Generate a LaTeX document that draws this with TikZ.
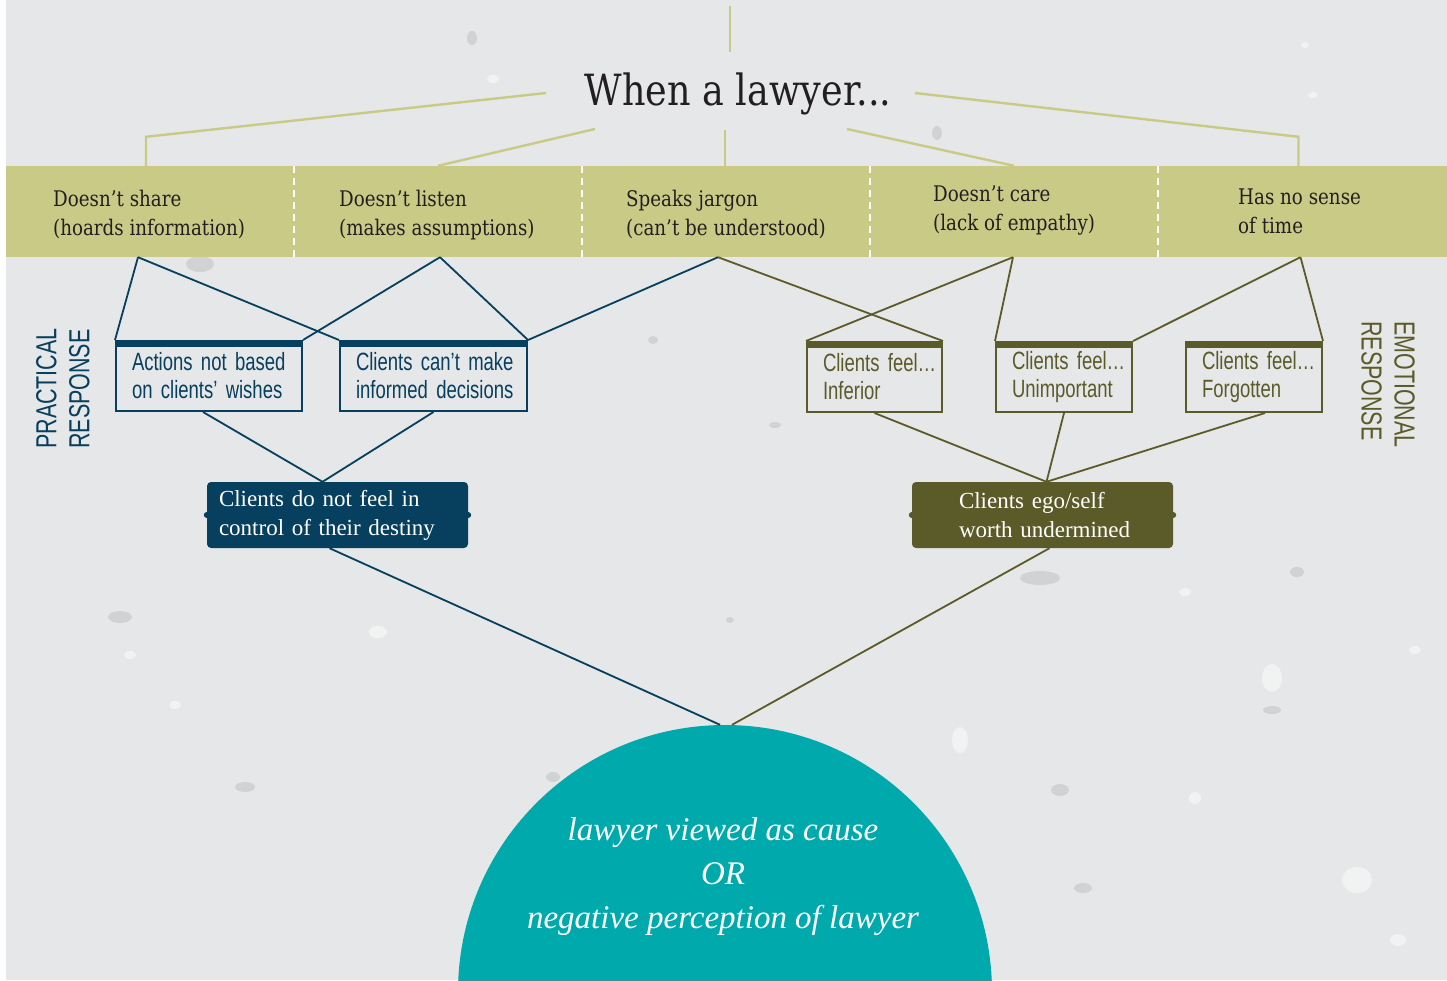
\documentclass[tikz,border=0pt]{standalone}
\usepackage{fontspec}
\setmainfont{Liberation Serif}
\newfontfamily\lawTypeface[FakeStretch=0.85]{DejaVu Serif}
\newfontfamily\lawNarrowface[FakeStretch=0.74]{Liberation Sans}
\usepackage{xcolor}
\usetikzlibrary{positioning,calc}
\definecolor{paperGray}{HTML}{E6E7E8}
\definecolor{bandGreen}{HTML}{C9CA86}
\definecolor{lawNavy}{HTML}{073F5E}
\definecolor{lawOlive}{HTML}{5B5B2A}
\definecolor{lawTeal}{HTML}{00A9AC}
\definecolor{inkBlack}{HTML}{231F20}
\colorlet{speckLight}{white!45!paperGray}
\colorlet{speckDark}{black!9!paperGray}
\newcommand\lawNoBreak{\hyphenpenalty=10000\exhyphenpenalty=10000}
\newcommand\lawBandFont{\lawTypeface\fontsize{21.5}{29}\selectfont}
\newcommand\lawTitleFont{\lawTypeface\fontsize{43}{50}\selectfont}
\newcommand\lawBoxFont{\lawNarrowface\fontsize{25}{28}\selectfont\lawNoBreak\spaceskip=5.2pt}
\newcommand\lawSideFont{\lawNarrowface\fontsize{29}{33}\selectfont}
\newcommand\lawSummaryFont{\fontsize{23}{29}\selectfont\lawNoBreak}
\newcommand\lawVerdictFont{\itshape\fontsize{33}{44}\selectfont}
\tikzset{
  % band of lawyer behaviours
  cell/.style={
    fill=bandGreen,
    minimum width=288pt,
    minimum height=91pt,
    inner sep=0pt
  },
  celltext/.style={
    font=\lawBandFont,
    text=inkBlack,
    align=left,
    anchor=west,
    inner sep=0pt
  },
  titletext/.style={
    font=\lawTitleFont,
    text=inkBlack,
    inner sep=0pt
  },
  topline/.style={
    draw=bandGreen,
    line width=2.4pt
  },
  divider/.style={
    draw=white,
    line width=1.8pt,
    dash pattern=on 7pt off 5pt
  },
  % client responses
  respbox/.style={
    draw=#1,
    text=#1,
    line width=2pt,
    minimum height=70pt,
    inner xsep=16pt,
    inner ysep=0pt,
    align=left,
    font=\lawBoxFont
  },
  link/.style={
    draw=#1,
    line width=1.8pt
  },
  summary/.style={
    fill=#1,
    text=white,
    rounded corners=4pt,
    minimum height=66pt,
    inner ysep=0pt,
    align=left,
    font=\lawSummaryFont
  },
  sidelabel/.style={
    text=#1,
    align=left,
    inner sep=0pt,
    font=\lawSideFont
  },
  verdict/.style={
    circle,
    fill=lawTeal,
    minimum size=534pt,
    inner sep=0pt
  },
  verdicttext/.style={
    text=white,
    align=center,
    inner sep=0pt,
    font=\lawVerdictFont
  }
}

\begin{document}
\begin{tikzpicture}[x=1pt,y=-1pt]

\clip (0,0) rectangle (1447,980);
\fill[white] (0,0) rectangle (1447,980);
\fill[paperGray] (6,0) rectangle (1447,980);

% paper texture
\foreach \x/\y/\rx/\ry/\c in {
  472/38/5/7/speckDark, 493/79/6/4/speckLight, 937/133/5/7/speckDark,
  1305/45/4/3/speckLight, 1313/95/5/3/speckLight, 200/264/14/8/speckDark,
  653/340/5/4/speckDark, 775/425/6/3/speckDark, 1297/572/7/5/speckDark,
  1040/578/20/7/speckDark, 1185/592/6/4/speckLight, 1272/678/10/14/speckLight,
  1272/710/9/4/speckDark, 960/740/8/13/speckLight, 1195/798/6/6/speckLight,
  1357/880/15/13/speckLight, 1083/888/9/5/speckDark, 1060/790/9/6/speckDark,
  120/617/12/6/speckDark, 130/655/6/4/speckLight, 378/632/9/6/speckLight,
  175/705/6/4/speckLight, 245/787/10/5/speckDark, 1398/940/8/6/speckLight,
  553/777/7/5/speckDark, 730/620/4/3/speckDark, 1415/650/6/4/speckLight}
  \fill[\c] (\x,\y) ellipse ({\rx pt} and {\ry pt});

% behaviour band
\node[cell] (share) at (150,211.5) {};
\node[cell] (listen) at (438,211.5) {};
\node[cell] (jargon) at (726,211.5) {};
\node[cell] (care) at (1014,211.5) {};
\node[cell, minimum width=289pt] (time) at (1302.5,211.5) {};
\foreach \c in {share,listen,jargon,care}
  \draw[divider] (\c.north east) -- (\c.south east);

\node[celltext] (shareTxt) at (53,215) {Doesn’t share\\(hoards information)};
\node[celltext] (listenTxt) at (339,215) {Doesn’t listen\\(makes assumptions)};
\node[celltext] (jargonTxt) at (626,215) {Speaks jargon\\(can’t be understood)};
\node[celltext] (careTxt) at (933,211) {Doesn’t care\\(lack of empathy)};
\node[celltext] (timeTxt) at (1238,211) {Has no sense\\of time};

% title and its fan of lines
\node[titletext] (title) at (738,94) {When a lawyer...};
\coordinate (stem) at (730,6);
\coordinate (stemEnd) at (730,52);
\coordinate (fanL) at (546,93);
\coordinate (fanLL) at (595,129);
\coordinate (fanC) at (725,130);
\coordinate (fanRR) at (847,129);
\coordinate (fanR) at (915,93);

\draw[topline] (stem) -- (stemEnd);
\draw[topline] (fanL) -- ([xshift=-4pt,yshift=29pt]share.north) -- ([xshift=-4pt]share.north);
\draw[topline] (fanLL) -- (listen.north);
\draw[topline] (fanC) -- ([xshift=-1pt]jargon.north);
\draw[topline] (fanRR) -- (care.north);
\draw[topline] (fanR) -- ([xshift=-4pt,yshift=29pt]time.north) -- ([xshift=-4pt]time.north);

% response boxes
\node[respbox=lawNavy, text width=154pt] (act) at (209,376) {\mbox{Actions not based}\\\mbox{on clients’ wishes}};
\node[respbox=lawNavy, text width=155pt] (dec) at (433.5,376) {\mbox{Clients can’t make}\\\mbox{informed decisions}};
\node[respbox=lawOlive, text width=103pt] (inf) at (874.5,377) {\mbox{Clients feel\ldots}\\Inferior};
\node[respbox=lawOlive, text width=104pt] (unimp) at (1064,377) {\mbox{Clients feel\ldots}\\Unimportant};
\node[respbox=lawOlive, text width=104pt] (forg) at (1254,377) {\mbox{Clients feel\ldots}\\Forgotten};
\foreach \b/\c in {act/lawNavy,dec/lawNavy,inf/lawOlive,unimp/lawOlive,forg/lawOlive}
  \fill[\c] (\b.north west) rectangle ([yshift=-7pt]\b.north east);

\draw[link=lawNavy] ([xshift=-12pt]share.south) -- (act.north west);
\draw[link=lawNavy] ([xshift=-12pt]share.south) -- (dec.north west);
\draw[link=lawNavy] ([xshift=2pt]listen.south) -- (act.north east);
\draw[link=lawNavy] ([xshift=2pt]listen.south) -- (dec.north east);
\draw[link=lawNavy] ([xshift=-8pt]jargon.south) -- (dec.north east);
\draw[link=lawOlive] ([xshift=-8pt]jargon.south) -- (inf.north east);
\draw[link=lawOlive] ([xshift=-1pt]care.south) -- (inf.north west);
\draw[link=lawOlive] ([xshift=-1pt]care.south) -- (unimp.north west);
\draw[link=lawOlive] ([xshift=-2pt]time.south) -- (unimp.north east);
\draw[link=lawOlive] ([xshift=-2pt]time.south) -- (forg.north east);

% side headings
\node[sidelabel=lawNavy, rotate=90, anchor=west] (practical) at (63,449) {PRACTICAL\\RESPONSE};
\node[sidelabel=lawOlive, rotate=-90, anchor=west] (emotional) at (1388,321) {EMOTIONAL\\RESPONSE};

% summaries
\node[summary=lawNavy, inner xsep=12pt, text width=237pt] (destiny) at (337.5,515) {\mbox{Clients do not feel in}\\\mbox{control of their destiny}};
\node[summary=lawOlive, inner xsep=47pt, text width=167pt] (ego) at (1042.5,515) {\mbox{Clients ego/self}\\\mbox{worth undermined}};
\foreach \s/\c in {destiny/lawNavy,ego/lawOlive} {
  \fill[\c] (\s.west) circle (3pt);
  \fill[\c] (\s.east) circle (3pt);
}

\draw[link=lawNavy] ([xshift=-6pt]act.south) -- ([xshift=-15pt]destiny.north);
\draw[link=lawNavy] (dec.south) -- ([xshift=-15pt]destiny.north);
\draw[link=lawOlive] (inf.south) -- ([xshift=4pt]ego.north);
\draw[link=lawOlive] (unimp.south) -- ([xshift=4pt]ego.north);
\draw[link=lawOlive] ([xshift=11pt]forg.south) -- ([xshift=4pt]ego.north);

% outcome
\node[verdict] (verdict) at (725,992) {};
\node[verdicttext] (verdictTxt) at (723,877) {lawyer viewed as cause\\OR\\negative perception of lawyer};

\draw[link=lawNavy] ([xshift=-8pt]destiny.south) -- ([xshift=-5pt]verdict.north);
\draw[link=lawOlive] ([xshift=7pt]ego.south) -- ([xshift=7pt]verdict.north);

\end{tikzpicture}
\end{document}
